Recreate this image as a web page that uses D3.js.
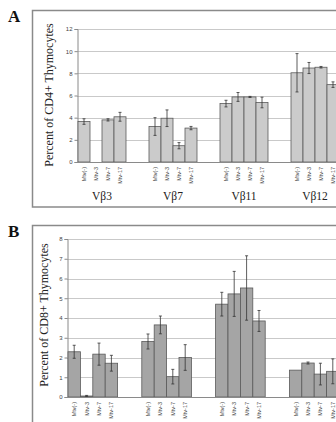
<!DOCTYPE html>
<html>
<head>
<meta charset="utf-8">
<script src="https://cdn.jsdelivr.net/npm/d3@7"></script>
<style>
  html, body { margin: 0; padding: 0; background: #fff; }
  svg { display: block; }
</style>
</head>
<body>
<svg id="chart" width="336" height="422"></svg>
<script>
// ---------- data ----------
const series = ["Mtv(-)", "Mtv-3", "Mtv-7", "Mtv-17"];
const groups = ["Vβ3", "Vβ7", "Vβ11", "Vβ12"];

// Panel A: percent of CD4+ thymocytes
const cd4Vb3  = [3.65, 0, 3.8, 4.08];
const cd4Vb7  = [3.2, 3.95, 1.47, 3.06];
const cd4Vb11 = [5.27, 5.87, 5.87, 5.37];
const cd4Vb12 = [8.05, 8.48, 8.55, 6.98];
const cd4ErrVb3  = [0.25, 0, 0.1, 0.4];
const cd4ErrVb7  = [0.8, 0.75, 0.28, 0.15];
const cd4ErrVb11 = [0.3, 0.4, 0.05, 0.48];
const cd4ErrVb12 = [1.73, 0.5, 0.07, 0.25];

// Panel B: percent of CD8+ thymocytes
const cd8Vb3  = [2.29, 0.05, 2.17, 1.71];
const cd8Vb7  = [2.81, 3.65, 1.03, 2.0];
const cd8Vb11 = [4.7, 5.22, 5.52, 3.85];
const cd8Vb12 = [1.36, 1.72, 1.16, 1.3];
const cd8ErrVb3  = [0.33, 0.03, 0.56, 0.4];
const cd8ErrVb7  = [0.38, 0.45, 0.37, 0.65];
const cd8ErrVb11 = [0.6, 1.14, 1.63, 0.53];
const cd8ErrVb12 = [0, 0.05, 0.55, 0.63];

const yTicksA = [0, 2, 4, 6, 8, 10, 12];
const yTicksB = [0, 1, 2, 3, 4, 5, 6, 7, 8];

function rows(vals, errs) {
  const out = [];
  groups.forEach((g, gi) => series.forEach((s, si) => {
    out.push({ group: g, series: s, value: vals[gi][si], err: errs[gi][si] });
  }));
  return out;
}
const dataA = rows([cd4Vb3, cd4Vb7, cd4Vb11, cd4Vb12], [cd4ErrVb3, cd4ErrVb7, cd4ErrVb11, cd4ErrVb12]);
const dataB = rows([cd8Vb3, cd8Vb7, cd8Vb11, cd8Vb12], [cd8ErrVb3, cd8ErrVb7, cd8ErrVb11, cd8ErrVb12]);

const svg = d3.select("#chart");

function panel(cfg) {
  const g = svg.append("g");
  // frame
  g.append("rect")
    .attr("x", cfg.box[0]).attr("y", cfg.box[1])
    .attr("width", cfg.box[2]).attr("height", cfg.box[3])
    .attr("fill", "#fff").attr("stroke", "#8a8a8a").attr("stroke-width", 1.5);
  // panel letter
  g.append("text").attr("x", 8).attr("y", cfg.letterY)
    .attr("font-family", "Liberation Serif").attr("font-weight", "bold")
    .attr("font-size", 17).attr("fill", "#111").text(cfg.letter);

  const y = d3.scaleLinear().domain(cfg.yDomain).range([cfg.zeroY, cfg.topY]);
  const x0 = d3.scaleBand().domain(groups).range(cfg.xRange)
    .paddingInner(cfg.padInner).paddingOuter(0);
  const x1 = d3.scaleBand().domain(series).range([0, x0.bandwidth()]).padding(0);

  // gridlines
  g.append("g").selectAll("line").data(cfg.ticks.slice(1)).join("line")
    .attr("x1", cfg.axisX).attr("x2", 336)
    .attr("y1", d => Math.round(y(d)) + 0.5).attr("y2", d => Math.round(y(d)) + 0.5)
    .attr("stroke", "#c9c9c9").attr("stroke-width", 1);

  // y axis
  const yAxis = d3.axisLeft(y).tickValues(cfg.ticks).tickSize(3).tickPadding(2);
  const ya = g.append("g").attr("transform", `translate(${cfg.axisX + 0.5},0)`).call(yAxis);
  ya.select(".domain").attr("stroke", "#8a8a8a");
  ya.selectAll(".tick line").attr("stroke", "#8a8a8a");
  ya.selectAll(".tick text").attr("font-family", "Liberation Sans")
    .attr("font-size", 6).attr("fill", "#444");

  // bars
  const bars = g.append("g");
  bars.selectAll("rect").data(cfg.data.filter(d => d.value > 0)).join("rect")
    .attr("x", d => x0(d.group) + x1(d.series))
    .attr("y", d => y(d.value))
    .attr("width", x1.bandwidth())
    .attr("height", d => y(0) - y(d.value))
    .attr("fill", cfg.barFill).attr("stroke", "#5a5a5a").attr("stroke-width", 0.8);

  // error bars
  const eb = g.append("g").attr("stroke", "#333").attr("stroke-width", 0.8);
  const withErr = cfg.data.filter(d => d.err > 0);
  eb.selectAll("line.v").data(withErr).join("line").attr("class", "v")
    .attr("x1", d => x0(d.group) + x1(d.series) + x1.bandwidth() / 2)
    .attr("x2", d => x0(d.group) + x1(d.series) + x1.bandwidth() / 2)
    .attr("y1", d => y(d.value + d.err)).attr("y2", d => y(d.value - d.err));
  ["top", "bot"].forEach(k => {
    eb.selectAll("line." + k).data(withErr).join("line").attr("class", k)
      .attr("x1", d => x0(d.group) + x1(d.series) + x1.bandwidth() / 2 - 1.5)
      .attr("x2", d => x0(d.group) + x1(d.series) + x1.bandwidth() / 2 + 1.5)
      .attr("y1", d => y(k === "top" ? d.value + d.err : d.value - d.err))
      .attr("y2", d => y(k === "top" ? d.value + d.err : d.value - d.err));
  });

  // x axis baseline
  g.append("line").attr("x1", cfg.axisX).attr("x2", 336)
    .attr("y1", Math.round(y(0)) + 0.5).attr("y2", Math.round(y(0)) + 0.5)
    .attr("stroke", "#8a8a8a");

  // rotated series labels
  const lab = g.append("g");
  lab.selectAll("text").data(cfg.data).join("text")
    .attr("transform", d => `translate(${x0(d.group) + x1(d.series) + x1.bandwidth() / 2 + 2},${cfg.zeroY + 5}) rotate(-90)`)
    .attr("text-anchor", "end")
    .attr("font-family", "Liberation Sans").attr("font-size", 5.5).attr("fill", "#444")
    .text(d => d.series);

  // group labels (only where the reference shows them)
  if (cfg.groupLabelY != null) {
    g.append("g").selectAll("text").data(groups).join("text")
      .attr("x", d => x0(d) + x0.bandwidth() / 2)
      .attr("y", cfg.groupLabelY)
      .attr("text-anchor", "middle")
      .attr("font-family", "Liberation Serif").attr("font-size", 11.5).attr("fill", "#222")
      .text(d => d);
  }

  // y title
  g.append("text")
    .attr("transform", `translate(${cfg.titleX},${cfg.titleY}) rotate(-90)`)
    .attr("text-anchor", "middle")
    .attr("font-family", "Liberation Serif").attr("font-size", 12).attr("fill", "#222")
    .text(cfg.title);
}

panel({
  letter: "A", letterY: 22,
  box: [32.5, 10.5, 320, 196.5],
  data: dataA, yDomain: [0, 12], ticks: yTicksA,
  zeroY: 162, topY: 29, axisX: 77,
  xRange: [78, 339], padInner: 23 / 71,
  barFill: "#cbcbcb",
  groupLabelY: 200,
  title: "Percent of CD4+ Thymocytes", titleX: 53, titleY: 95
});

panel({
  letter: "B", letterY: 237,
  box: [32.5, 225.5, 320, 240],
  data: dataB, yDomain: [0, 8], ticks: yTicksB,
  zeroY: 397, topY: 239, axisX: 67,
  xRange: [68, 339], padInner: 24.2 / 73.8,
  barFill: "#a5a5a5",
  groupLabelY: null,
  title: "Percent of CD8+ Thymocytes", titleX: 48, titleY: 315
});
</script>
</body>
</html>
